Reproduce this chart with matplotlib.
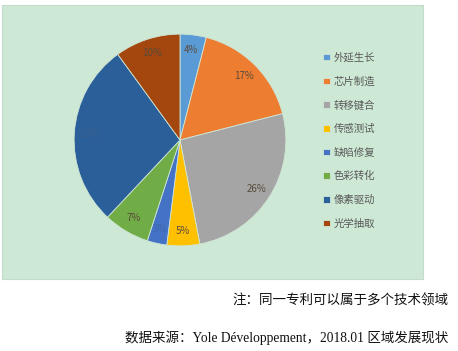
import matplotlib
matplotlib.use('Agg')
import matplotlib.pyplot as plt
from matplotlib.patches import Rectangle

plt.rcParams['font.family'] = ['Noto Sans CJK SC', 'DejaVu Sans']

# slice data, clockwise from 12 o'clock
labels = ['外延生长', '芯片制造', '转移键合', '传感测试', '缺陷修复', '色彩转化', '像素驱动', '光学抽取']
shares = [4, 17, 26, 5, 3, 7, 28, 10]
colors = ['#5b9bd5', '#ed7d31', '#a5a5a5', '#ffc000', '#4472c4', '#70ad47', '#2a5f9a', '#a4470f']
note = '注：同一专利可以属于多个技术领域'
source = '数据来源：Yole Développement，2018.01 区域发展现状'

W, H = 458, 351
fig = plt.figure(figsize=(W / 100, H / 100), dpi=100)
fig.patch.set_facecolor('white')

# green chart panel, behind everything
fig.patches.append(Rectangle((2 / W, 1 - 279 / H), 421 / W, 274 / H,
                             transform=fig.transFigure, facecolor='#cde8d4',
                             edgecolor='#c3dccb', lw=0.8, zorder=-5))

cx, cy, r = 180, 140, 108
ax = fig.add_axes([(cx - r) / W, 1 - (cy + r) / H, 2 * r / W, 2 * r / H])
wedges, texts, autotexts = ax.pie(shares, colors=colors, startangle=90, counterclock=False,
                                  autopct='%d%%', pctdistance=0.86,
                                  wedgeprops=dict(edgecolor='#d0e6d6', linewidth=0.6),
                                  textprops=dict(fontsize=7, color='#5a4a3a'))
# labels on the dark blue slices hardly show in the original
autotexts[4].set_color('#3f66b0')
autotexts[6].set_color('#3a5f8c')
ax.set_xlim(-1.02, 1.02)
ax.set_ylim(-1.02, 1.02)
ax.set_facecolor('none')

leg = fig.legend(wedges, labels, loc='upper left', bbox_to_anchor=(314 / W, 1 - 43 / H),
                 frameon=False, fontsize=7.5, handlelength=0.6, handleheight=0.6,
                 handletextpad=0.4, labelspacing=1.3, labelcolor='#595959')

fig.text(448 / W, 1 - 301 / H, note, ha='right', va='center', fontsize=9.75,
         family=['Liberation Serif', 'Noto Sans CJK SC'], color='#111111')
fig.text(448 / W, 1 - 338 / H, source, ha='right', va='center', fontsize=9.75,
         family=['Liberation Serif', 'Noto Sans CJK SC'], color='#111111')

fig.savefig('out.png', dpi=100)
plt.close(fig)
